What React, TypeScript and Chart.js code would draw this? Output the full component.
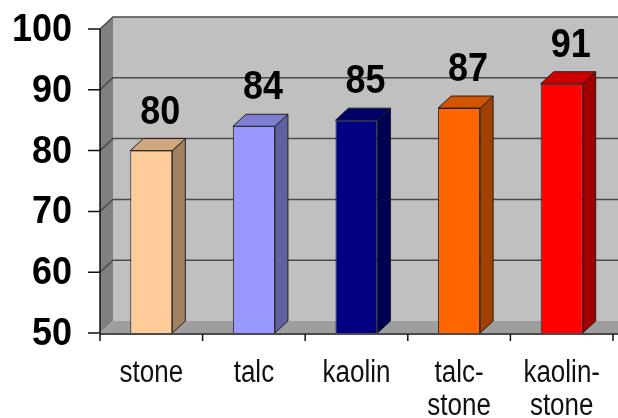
import { useEffect, useRef } from "react";
import { Chart, registerables } from "chart.js";

Chart.register(...registerables);

// Chart content
const categories: string[][] = [["stone"], ["talc"], ["kaolin"], ["talc-", "stone"], ["kaolin-", "stone"]];
const strengthValues: number[] = [80, 84, 85, 87, 91];
const barColors: string[] = ["#FFCC99", "#9999FF", "#000080", "#FF6600", "#FF0000"];
const yTicks: number[] = [50, 60, 70, 80, 90, 100];

// Projection of the depth axis for the pseudo-3D look
const DX = 13;
const DY = -12;
const FONT = '"Liberation Sans", Arial, sans-serif';

function shade(hex: string, f: number): string {
  const n = parseInt(hex.slice(1), 16);
  const r = Math.round(((n >> 16) & 255) * f);
  const g = Math.round(((n >> 8) & 255) * f);
  const b = Math.round((n & 255) * f);
  return `rgb(${r},${g},${b})`;
}

function poly(ctx: CanvasRenderingContext2D, pts: number[][], fill: string, stroke?: string) {
  ctx.beginPath();
  ctx.moveTo(pts[0][0], pts[0][1]);
  for (let i = 1; i < pts.length; i++) ctx.lineTo(pts[i][0], pts[i][1]);
  ctx.closePath();
  ctx.fillStyle = fill;
  ctx.fill();
  if (stroke) {
    ctx.strokeStyle = stroke;
    ctx.lineWidth = 1;
    ctx.stroke();
  }
}

function stretchedText(
  ctx: CanvasRenderingContext2D,
  text: string,
  x: number,
  y: number,
  sy: number
) {
  ctx.save();
  ctx.translate(x, y);
  ctx.scale(1, sy);
  ctx.fillText(text, 0, 0);
  ctx.restore();
}

const wallsPlugin = {
  id: "walls3d",
  beforeDatasetsDraw(chart: any) {
    const { ctx, chartArea: a, scales } = chart;
    const ys = scales.y;
    const W = chart.width;
    const n = categories.length;
    ctx.save();

    // back wall, side wall and floor
    ctx.fillStyle = "#C0C0C0";
    ctx.fillRect(a.left + DX, a.top + DY, W - a.left - DX, a.bottom - a.top);
    poly(ctx, [[a.left, a.top], [a.left + DX, a.top + DY], [a.left + DX, a.bottom + DY], [a.left, a.bottom]], "#808080");
    poly(ctx, [[a.left, a.bottom], [a.left + DX, a.bottom + DY], [W, a.bottom + DY], [W, a.bottom]], "#9E9E9E");

    // gridlines running over the side wall and across the back wall
    ctx.strokeStyle = "#4A4A4A";
    ctx.lineWidth = 1.5;
    for (const v of yTicks) {
      if (v === yTicks[0]) continue;
      const py = ys.getPixelForValue(v);
      ctx.beginPath();
      ctx.moveTo(a.left, py);
      ctx.lineTo(a.left + DX, py + DY);
      ctx.lineTo(W, py + DY);
      ctx.stroke();
    }

    // value axis with tick marks
    ctx.strokeStyle = "#111";
    ctx.lineWidth = 1.5;
    ctx.beginPath();
    ctx.moveTo(a.left, ys.getPixelForValue(yTicks[yTicks.length - 1]));
    ctx.lineTo(a.left, a.bottom + 1);
    for (const v of yTicks) {
      const py = ys.getPixelForValue(v);
      ctx.moveTo(a.left - 12, py);
      ctx.lineTo(a.left, py);
    }
    // category axis with tick marks between categories
    ctx.moveTo(a.left, a.bottom + 1);
    ctx.lineTo(W, a.bottom + 1);
    const cw = (a.right - a.left) / n;
    for (let i = 0; i <= n; i++) {
      const px = a.left + i * cw;
      ctx.moveTo(px, a.bottom + 1);
      ctx.lineTo(px, a.bottom + 8);
    }
    ctx.stroke();
    ctx.restore();
  },
  afterDatasetsDraw(chart: any) {
    const { ctx, chartArea: a, scales } = chart;
    const ys = scales.y;
    const xs = scales.x;
    const meta = chart.getDatasetMeta(0);
    ctx.save();

    // side and top faces of each bar (bars start at the floor of the value axis)
    meta.data.forEach((el: any, i: number) => {
      const { x, y, base, width } = el.getProps(["x", "y", "base", "width"], true);
      const b = Math.min(base, a.bottom);
      const l = x - width / 2;
      const r = x + width / 2;
      const c = barColors[i];
      poly(ctx, [[r, y], [r + DX, y + DY], [r + DX, b + DY], [r, b]], shade(c, 0.63), "#222");
      poly(ctx, [[l, y], [l + DX, y + DY], [r + DX, y + DY], [r, y]], shade(c, 0.82), "#222");
    });

    // value labels above the bars
    ctx.fillStyle = "#000";
    ctx.font = `bold 36px ${FONT}`;
    ctx.textAlign = "center";
    ctx.textBaseline = "alphabetic";
    meta.data.forEach((el: any, i: number) => {
      const { x, y } = el.getProps(["x", "y"], true);
      stretchedText(ctx, String(strengthValues[i]), x + 9, y - 27, 1.12);
    });

    // value axis labels
    ctx.textAlign = "right";
    ctx.textBaseline = "middle";
    for (const v of yTicks) {
      stretchedText(ctx, String(v), 72, ys.getPixelForValue(v) + 1, 1.1);
    }

    // category labels
    ctx.font = `26px ${FONT}`;
    ctx.fillStyle = "#111";
    ctx.textAlign = "center";
    ctx.textBaseline = "alphabetic";
    categories.forEach((lines, i) => {
      const px = xs.getPixelForValue(i);
      lines.forEach((t, k) => {
        stretchedText(ctx, t, px, a.bottom + 49 + k * 33, 1.2);
      });
    });
    ctx.restore();
  },
};

export default function App() {
  const ref = useRef<HTMLCanvasElement | null>(null);

  useEffect(() => {
    if (!ref.current) return;
    const chart = new Chart(ref.current, {
      type: "bar",
      data: {
        labels: categories,
        datasets: [
          {
            data: strengthValues,
            backgroundColor: barColors,
            borderColor: "#222",
            borderWidth: 1,
            borderSkipped: false,
            categoryPercentage: 1,
            barPercentage: 0.41,
          },
        ],
      },
      options: {
        animation: false,
        responsive: false,
        devicePixelRatio: 1,
        events: [],
        layout: { padding: { left: 100, right: 5, top: 29, bottom: 85 } },
        plugins: {
          legend: { display: false },
          tooltip: { enabled: false },
        },
        scales: {
          x: { display: false },
          y: { display: false, min: 50, max: 100 },
        },
      },
      plugins: [wallsPlugin],
    });
    return () => chart.destroy();
  }, []);

  return (
    <div style={{ position: "absolute", left: 0, top: 0, width: 618, height: 418, background: "#fff" }}>
      <canvas ref={ref} width={618} height={418} style={{ width: 618, height: 418 }} />
    </div>
  );
}
